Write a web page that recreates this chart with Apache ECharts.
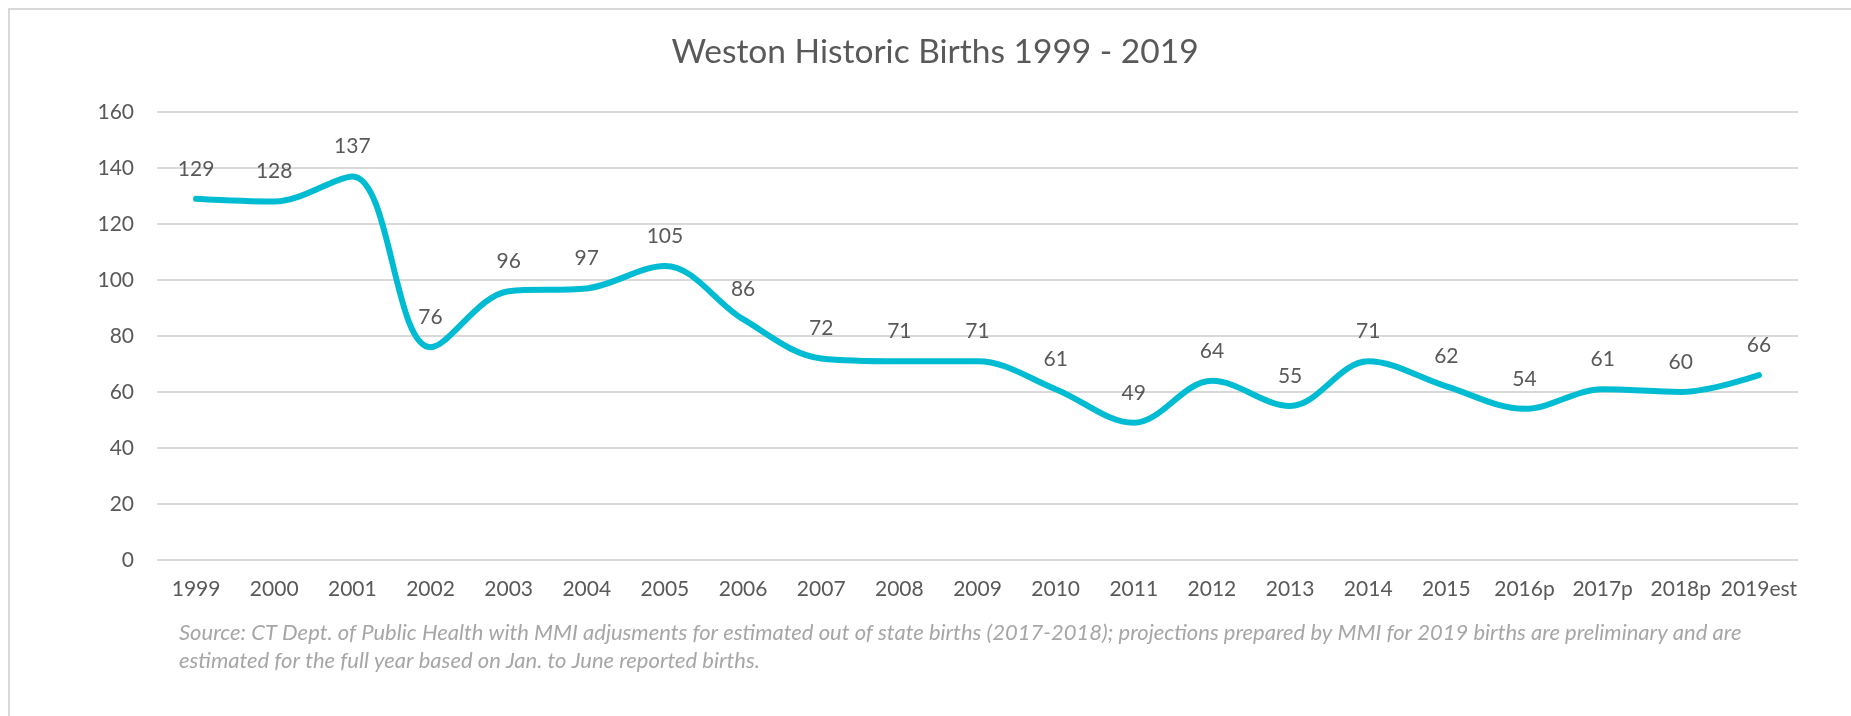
<!DOCTYPE html>
<html>
<head>
<meta charset="utf-8">
<title>Weston Historic Births 1999 - 2019</title>
<script src="https://cdn.jsdelivr.net/npm/echarts@6/dist/echarts.min.js"></script>
<style>
  html, body { margin: 0; padding: 0; background: #fff; }
  #chart { width: 1851px; height: 716px; }
</style>
</head>
<body>
<div id="chart"></div>
<script>
var years = ['1999', '2000', '2001', '2002', '2003', '2004', '2005', '2006', '2007', '2008', '2009',
  '2010', '2011', '2012', '2013', '2014', '2015', '2016p', '2017p', '2018p', '2019est'];
var births = [129, 128, 137, 76, 96, 97, 105, 86, 72, 71, 71, 61, 49, 64, 55, 71, 62, 54, 61, 60, 66];
var yTicks = [0, 20, 40, 60, 80, 100, 120, 140, 160];

var titleText = 'Weston Historic Births 1999 - 2019';
var sourceText = 'Source: CT Dept. of Public Health with MMI adjusments for estimated out of state births (2017-2018); projections prepared by MMI for 2019 births are preliminary and are\n' +
  'estimated for the full year based on Jan. to June reported births.';

var font = 'Lato, "Open Sans", sans-serif';
var textGrey = '#595959';

var chart = echarts.init(document.getElementById('chart'));
chart.setOption({
  animation: false,
  backgroundColor: '#fff',
  textStyle: { fontFamily: font },
  title: [{
    text: titleText,
    left: 930,
    textAlign: 'center',
    top: 30,
    textStyle: { fontFamily: font, fontSize: 33.5, fontWeight: 'normal', color: textGrey }
  }, {
    text: sourceText,
    left: 174,
    top: 614,
    textStyle: {
      fontFamily: font, fontSize: 22, fontStyle: 'italic', fontWeight: 'normal',
      color: '#a6a6a6', lineHeight: 28
    }
  }],
  graphic: [{
    type: 'rect',
    shape: { x: 9, y: 9, width: 2000, height: 2000 },
    style: { fill: 'none', stroke: '#d9d9d9', lineWidth: 2 },
    silent: true
  }],
  grid: { left: 157, right: 53, top: 112, bottom: 156, containLabel: false },
  xAxis: {
    type: 'category',
    data: years,
    boundaryGap: true,
    axisLine: { show: false },
    axisTick: { show: false },
    axisLabel: { color: textGrey, fontSize: 21, margin: 19, interval: 0, fontFamily: font }
  },
  yAxis: {
    type: 'value',
    min: yTicks[0],
    max: yTicks[yTicks.length - 1],
    interval: 20,
    axisLine: { show: false },
    axisTick: { show: false },
    axisLabel: { color: textGrey, fontSize: 21, margin: 23, fontFamily: font },
    splitLine: { lineStyle: { color: '#d9d9d9', width: 2 } }
  },
  series: [{
    name: 'Births',
    type: 'line',
    data: births,
    smooth: 0.35,
    symbol: 'circle',
    symbolSize: 1,
    showSymbol: true,
    itemStyle: { color: '#00bcd2' },
    lineStyle: { color: '#00bcd2', width: 6, cap: 'round' },
    label: {
      show: true,
      position: 'top',
      distance: 19,
      color: textGrey,
      fontSize: 21,
      fontFamily: font
    },
    labelLayout: { hideOverlap: false }
  }]
});
</script>
</body>
</html>
